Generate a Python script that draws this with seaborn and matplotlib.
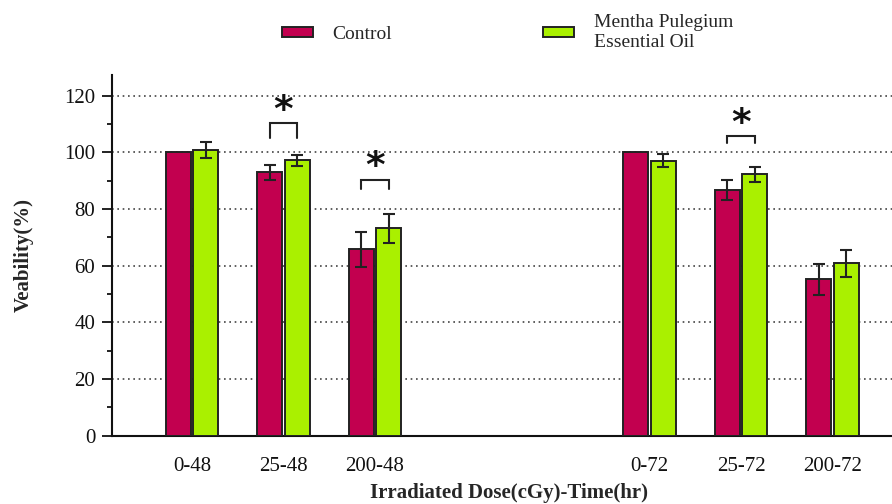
import numpy as np
import pandas as pd
import seaborn as sns
import matplotlib
matplotlib.use("Agg")
import matplotlib.pyplot as plt
from matplotlib.ticker import MultipleLocator

# ---- data ----
categories = ["0-48", "25-48", "200-48", "0-72", "25-72", "200-72"]
groups = ["Control", "Mentha Pulegium\nEssential Oil"]
control_mean = [100.0, 93.0, 65.8, 100.0, 86.7, 55.2]
control_err = [0.0, 2.7, 6.1, 0.0, 3.5, 5.5]
oil_mean = [100.8, 97.2, 73.2, 97.1, 92.3, 60.8]
oil_err = [2.8, 1.9, 5.2, 2.2, 2.6, 4.8]
# significance annotations (category, bracket top, bracket leg bottom)
sig_cats = ["25-48", "200-48", "25-72"]
sig_top = [110.3, 90.4, 105.9]
sig_bottom = [105.2, 87.1, 103.2]

colors = ["#C2004F", "#AAF000"]

df = pd.DataFrame({
    "cat": categories * 2,
    "group": [groups[0]] * len(categories) + [groups[1]] * len(categories),
    "value": control_mean + oil_mean,
    "err": control_err + oil_err,
})

order = ["0-48", "25-48", "200-48", " ", "  ", "0-72", "25-72", "200-72"]

sns.set_style("white")
plt.rcParams["font.family"] = "Liberation Serif"

fig = plt.figure(figsize=(8.92, 5.04), dpi=100)
ax = fig.add_axes([0.1256, 0.1355, 0.8744, 0.7155])

sns.barplot(data=df, x="cat", y="value", hue="group", order=order,
            hue_order=groups, palette=colors, saturation=1, width=0.6, gap=0.1,
            edgecolor="#222222", linewidth=1.4, errorbar=None, ax=ax,
            legend=True, zorder=3)


def bar_centers(container):
    """Map category -> bar centre x from the bars seaborn drew."""
    out = {}
    for p in container.patches:
        xc = p.get_x() + p.get_width() / 2
        out[order[int(round(xc))]] = xc
    return out


centers = [bar_centers(ax.containers[0]), bar_centers(ax.containers[1])]

# error bars positioned at the bar centres drawn by seaborn
for gi, (means, errs) in enumerate([(control_mean, control_err), (oil_mean, oil_err)]):
    for cat, m, e in zip(categories, means, errs):
        if e > 0:
            ax.errorbar(centers[gi][cat], m, yerr=e, fmt="none", ecolor="#222222",
                        elinewidth=1.5, capsize=4.5, capthick=1.5, zorder=4)

# significance brackets
for cat, top, bot in zip(sig_cats, sig_top, sig_bottom):
    x0 = centers[0][cat]
    x1 = centers[1][cat]
    ax.plot([x0, x0, x1, x1], [bot, top, top, bot], color="#222222", lw=1.5,
            solid_joinstyle="miter", zorder=4)
    ax.text((x0 + x1) / 2, top + 4.3, "*", ha="center", va="center",
            fontsize=27, fontweight="bold", family="DejaVu Sans", color="#111111")

ax.set_xlim(-0.874, 7.65)
ax.set_ylim(0, 127.3)
ax.yaxis.set_major_locator(MultipleLocator(20))
ax.yaxis.set_minor_locator(MultipleLocator(10))
ax.yaxis.grid(True, which="major", linestyle=(0, (1, 2.2)), color="#444444", lw=1.2, zorder=0)
ax.set_axisbelow(True)

for s in ["top", "right"]:
    ax.spines[s].set_visible(False)
for s in ["left", "bottom"]:
    ax.spines[s].set_linewidth(1.5)
    ax.spines[s].set_color("#111111")

ax.tick_params(axis="y", which="major", length=7, width=1.3, direction="out",
               left=True, labelsize=15, pad=5, colors="#111111")
ax.tick_params(axis="y", which="minor", length=3.6, width=1.3, direction="out", left=True,
               colors="#111111")
ax.tick_params(axis="x", length=0, labelsize=15, pad=15, colors="#111111")

ax.set_xlabel("Irradiated Dose(cGy)-Time(hr)", fontsize=15, fontweight="bold")
ax.set_ylabel("Veability(%)", fontsize=15, fontweight="bold")
ax.xaxis.set_label_coords((509 - 112) / 780, -0.13)
ax.yaxis.set_label_coords(-0.1, 0.5)

# legend
handles, labels = ax.get_legend_handles_labels()
ax.get_legend().remove()
fig.legend(handles, labels, loc="center", bbox_to_anchor=(0.569, 0.936),
           ncol=2, frameon=False, fontsize=14, handlelength=1.6,
           handleheight=0.45, handletextpad=1.0, columnspacing=7.75,
           labelspacing=0.2)

fig.savefig("out.png", dpi=100)
